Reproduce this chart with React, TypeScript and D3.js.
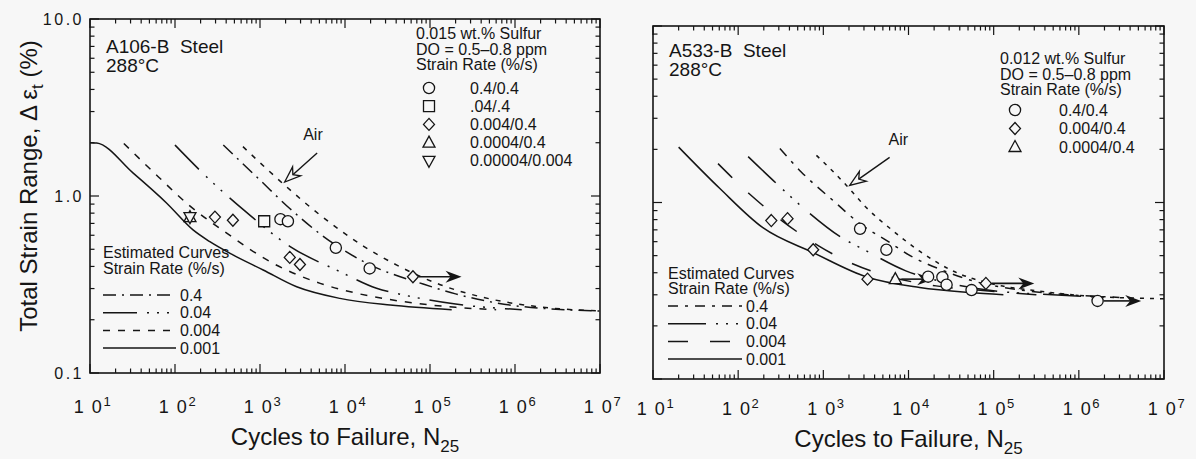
import React, { useEffect, useRef } from "react";
import * as d3 from "d3";

// [cycles to failure, total strain range %]
type Pt = [number, number];
// [from cycles, to cycles, strain range %]
type Runout = [number, number, number];

// axis tick labels
const decadeExponents = ["1", "2", "3", "4", "5", "6", "7"];
const yTickValues = [0.1, 1, 10];
const yTickLabels = ["0.1", "1.0", "10.0"];

// ---------- A106-B steel (left) ----------
const a106Air: Pt[] = [
  [630, 1.9], [2040, 1.13], [5100, 0.78], [16600, 0.52], [40700, 0.407],
  [120000, 0.321], [510000, 0.262], [2e6, 0.236], [1e7, 0.224],
];
const a106Rate04: Pt[] = [
  [370, 1.94], [1000, 1.23], [2240, 0.85], [5600, 0.59], [18000, 0.417],
  [83000, 0.318], [200000, 0.28], [1e6, 0.24], [1e7, 0.224],
];
const a106Rate004: Pt[] = [
  [100, 1.94], [258, 1.23], [690, 0.81], [2240, 0.52], [8700, 0.374],
  [23500, 0.301], [49000, 0.276], [200000, 0.245], [1.2e6, 0.228],
];
const a106Rate0004: Pt[] = [
  [25, 1.98], [63, 1.29], [145, 0.89], [410, 0.615], [1320, 0.425],
  [5100, 0.321], [13800, 0.282], [49000, 0.253], [200000, 0.235], [6e5, 0.228],
];
const a106Rate0001: Pt[] = [
  [10, 2.0], [12, 1.99], [32, 1.35], [80, 0.91], [163, 0.643], [257, 0.552],
  [480, 0.465], [1090, 0.382], [2700, 0.307], [8700, 0.264], [34000, 0.242], [180000, 0.228],
];

const a106Circle: Pt[] = [[1740, 0.74], [2130, 0.72], [7800, 0.51], [19500, 0.39]];
const a106Square: Pt[] = [[1120, 0.72]];
const a106Diamond: Pt[] = [[295, 0.76], [480, 0.73], [2240, 0.45], [2950, 0.41], [63000, 0.35]];
const a106TriUp: Pt[] = [[150, 0.76]];
const a106TriDown: Pt[] = [[150, 0.76]];
const a106Runouts: Runout[] = [[63000, 235000, 0.35]];

// "Air" note: label, arrow tail, arrow tip
const a106AirNote: Pt[] = [[4200, 2.21], [4700, 1.75], [1950, 1.2]];

const a106Head = ["0.015 wt.% Sulfur", "DO = 0.5–0.8 ppm", "Strain Rate (%/s)"];
const a106Rates = ["0.4/0.4", ".04/.4", "0.004/0.4", "0.0004/0.4", "0.00004/0.004"];

// ---------- A533-B steel (right) ----------
const a533Air: Pt[] = [
  [830, 1.85], [1870, 1.25], [3170, 0.94], [6600, 0.69], [13500, 0.53],
  [33000, 0.41], [98000, 0.345], [320000, 0.316], [1.2e6, 0.296], [1e7, 0.285],
];
const a533Rate04: Pt[] = [
  [309, 2.02], [550, 1.49], [1290, 1.03], [2680, 0.76], [5500, 0.61],
  [11300, 0.49], [23000, 0.42], [57000, 0.36], [200000, 0.32], [780000, 0.3], [3e6, 0.29],
];
const a533Rate004: Pt[] = [
  [131, 1.82], [282, 1.28], [600, 0.92], [1620, 0.635], [3170, 0.533],
  [9300, 0.41], [27000, 0.352], [81000, 0.32], [490000, 0.3], [2e6, 0.29],
];
const a533Rate0004: Pt[] = [
  [58, 1.66], [135, 1.12], [325, 0.79], [870, 0.57], [2240, 0.448],
  [5500, 0.385], [21000, 0.337], [81000, 0.316], [320000, 0.3],
];
const a533Rate0001: Pt[] = [
  [20, 2.06], [61, 1.2], [195, 0.72], [760, 0.52], [3300, 0.377],
  [13500, 0.33], [52000, 0.309], [130000, 0.3],
];

const a533Circle: Pt[] = [
  [2700, 0.71], [5500, 0.54], [17000, 0.38], [25000, 0.377], [28000, 0.342],
  [55000, 0.319], [1.66e6, 0.277],
];
const a533Diamond: Pt[] = [[245, 0.79], [380, 0.81], [760, 0.54], [3300, 0.368], [81000, 0.348]];
const a533TriUp: Pt[] = [[7000, 0.368]];
const a533Runouts: Runout[] = [
  [7000, 19500, 0.368],
  [81000, 300000, 0.348],
  [1.66e6, 5.4e6, 0.277],
];
const a533AirNote: Pt[] = [[7600, 2.25], [6000, 1.8], [2040, 1.25]];

const a533Head = ["0.012 wt.% Sulfur", "DO = 0.5–0.8 ppm", "Strain Rate (%/s)"];
const a533Rates = ["0.4/0.4", "0.004/0.4", "0.0004/0.4"];

const curveLabels = ["0.4", "0.04", "0.004", "0.001"];

const BG = "#f7f7f7";
const INK = "#151515";
const FONT = "'Liberation Sans', Arial, Helvetica, sans-serif";

const panels = [
  {
    frame: { x0: 90, x1: 600, y0: 19, y1: 373 },
    steel: "A106-B  Steel",
    titleY: 53,
    curves: [a106Rate04, a106Rate004, a106Rate0004, a106Rate0001],
    air: a106Air,
    dashes: ["13,6,2,6", "34,10,2,8,2,8,2,10", "7,8", null],
    airDash: "5,7",
    markers: [
      { shape: "circle", pts: a106Circle },
      { shape: "square", pts: a106Square },
      { shape: "diamond", pts: a106Diamond },
      { shape: "triUp", pts: a106TriUp },
      { shape: "triDown", pts: a106TriDown },
    ],
    runouts: a106Runouts,
    airNote: a106AirNote,
    head: a106Head,
    rates: a106Rates,
    legend: { hx: 416, hy: 39, hStep: 15.5, sx: 429, lx: 470, ry: 88, rStep: 18.2 },
    curveLegend: { x: 103, y: 258, hStep: 16, lx0: 103, lx1: 176, ry: 295, rStep: 17.7 },
    labelY: 413,
    titleBase: 445,
    yTicks: true,
  },
  {
    frame: { x0: 653, x1: 1164, y0: 26, y1: 379 },
    steel: "A533-B  Steel",
    titleY: 57,
    curves: [a533Rate04, a533Rate004, a533Rate0004, a533Rate0001],
    air: a533Air,
    dashes: ["10,7,3,7", "38,10,2,8,2,8,2,14", "20,22", null],
    airDash: "4,6",
    markers: [
      { shape: "circle", pts: a533Circle },
      { shape: "diamond", pts: a533Diamond },
      { shape: "triUp", pts: a533TriUp },
    ],
    runouts: a533Runouts,
    airNote: a533AirNote,
    head: a533Head,
    rates: a533Rates,
    legend: { hx: 1000, hy: 64, hStep: 15.5, sx: 1015, lx: 1059, ry: 110, rStep: 18.5 },
    curveLegend: { x: 668, y: 279, hStep: 15, lx0: 668, lx1: 742, ry: 306, rStep: 17.7 },
    labelY: 415,
    titleBase: 447,
    yTicks: false,
  },
];

function drawMarker(g: any, shape: string, cx: number, cy: number) {
  const s = g.append("path").attr("fill", BG).attr("stroke", INK).attr("stroke-width", 1.3);
  if (shape === "circle") {
    s.attr("d", d3.arc()({ innerRadius: 0, outerRadius: 5.6, startAngle: 0, endAngle: 2 * Math.PI }))
      .attr("transform", `translate(${cx},${cy})`);
  } else if (shape === "square") {
    s.attr("d", `M${cx - 5.5},${cy - 5.5}h11v11h-11Z`);
  } else if (shape === "diamond") {
    s.attr("d", `M${cx},${cy - 6}L${cx + 5.5},${cy}L${cx},${cy + 6}L${cx - 5.5},${cy}Z`);
  } else if (shape === "triUp") {
    s.attr("d", `M${cx},${cy - 6.5}L${cx + 6},${cy + 4.5}L${cx - 6},${cy + 4.5}Z`);
  } else {
    s.attr("d", `M${cx},${cy + 6.5}L${cx + 6},${cy - 4.5}L${cx - 6},${cy - 4.5}Z`);
  }
}

const App: React.FC = () => {
  const svgRef = useRef<SVGSVGElement>(null);

  useEffect(() => {
    if (!svgRef.current) return;
    const svg = d3.select(svgRef.current);
    svg.selectAll("*").remove();

    svg.append("rect").attr("width", 1196).attr("height", 459).attr("fill", BG);

    panels.forEach((p) => {
      const { x0, x1, y0, y1 } = p.frame;
      const x = d3.scaleLog().domain([10, 1e7]).range([x0, x1]);
      const y = d3.scaleLog().domain([0.1, 10]).range([y1, y0]);
      const g = svg.append("g");

      // frame
      g.append("rect")
        .attr("x", x0).attr("y", y0).attr("width", x1 - x0).attr("height", y1 - y0)
        .attr("fill", "none").attr("stroke", INK).attr("stroke-width", 1.6);

      // log ticks on all four sides, pointing inward
      const isMajor = (v: number) => Math.abs(Math.log10(v) - Math.round(Math.log10(v))) < 1e-6;
      x.ticks().forEach((v) => {
        const len = isMajor(v) ? 9 : 4.5;
        const px = x(v);
        g.append("line").attr("x1", px).attr("x2", px).attr("y1", y1).attr("y2", y1 - len)
          .attr("stroke", INK).attr("stroke-width", 1.2);
        g.append("line").attr("x1", px).attr("x2", px).attr("y1", y0).attr("y2", y0 + len)
          .attr("stroke", INK).attr("stroke-width", 1.2);
      });
      y.ticks().forEach((v) => {
        const len = isMajor(v) ? 9 : 4.5;
        const py = y(v);
        g.append("line").attr("x1", x0).attr("x2", x0 + len).attr("y1", py).attr("y2", py)
          .attr("stroke", INK).attr("stroke-width", 1.2);
        g.append("line").attr("x1", x1).attr("x2", x1 - len).attr("y1", py).attr("y2", py)
          .attr("stroke", INK).attr("stroke-width", 1.2);
      });

      // x tick labels 10^n
      decadeExponents.forEach((e) => {
        const t = g.append("text")
          .attr("x", x(Math.pow(10, +e)) + 3).attr("y", p.labelY)
          .attr("text-anchor", "middle")
          .style("font-family", FONT).style("font-size", "18px")
          .style("letter-spacing", "1.5px").attr("fill", INK);
        t.append("tspan").text("1 0");
        t.append("tspan").attr("dy", -7).style("font-size", "13px").text(e);
      });

      if (p.yTicks) {
        yTickValues.forEach((v, i) => {
          g.append("text")
            .attr("x", x0 - 6).attr("y", Math.max(y(v) + 6, 22))
            .attr("text-anchor", "end")
            .style("font-family", FONT).style("font-size", "16px")
            .style("letter-spacing", "2.5px").attr("fill", INK)
            .text(yTickLabels[i]);
        });
      }

      // x axis title
      const xt = g.append("text")
        .attr("x", (x0 + x1) / 2).attr("y", p.titleBase)
        .attr("text-anchor", "middle")
        .style("font-family", FONT).style("font-size", "24px").attr("fill", INK);
      xt.append("tspan").text("Cycles to Failure, N");
      xt.append("tspan").attr("dy", 7).style("font-size", "17px").text("25");

      // steel / temperature labels
      g.append("text").attr("x", x0 + 16).attr("y", p.titleY)
        .style("font-family", FONT).style("font-size", "19px").style("white-space", "pre")
        .attr("fill", INK).text(p.steel);
      g.append("text").attr("x", x0 + 16).attr("y", p.titleY + 19)
        .style("font-family", FONT).style("font-size", "19px").attr("fill", INK).text("288°C");

      // estimated curves
      const line = d3.line<Pt>()
        .x((d) => x(d[0]))
        .y((d) => y(d[1]))
        .curve(d3.curveMonotoneX);

      const plot = g.append("g");
      p.curves.forEach((c, i) => {
        plot.append("path").datum(c).attr("d", line)
          .attr("fill", "none").attr("stroke", INK).attr("stroke-width", 1.5)
          .attr("stroke-dasharray", p.dashes[i] ?? null);
      });
      plot.append("path").datum(p.air).attr("d", line)
        .attr("fill", "none").attr("stroke", INK).attr("stroke-width", 1.5)
        .attr("stroke-dasharray", p.airDash);

      // runout arrows
      p.runouts.forEach(([n0, n1, e]) => {
        const xa = x(n0) + 6;
        const xb = x(n1);
        const py = y(e);
        plot.append("line").attr("x1", xa).attr("x2", xb - 8).attr("y1", py).attr("y2", py)
          .attr("stroke", INK).attr("stroke-width", 1.6);
        plot.append("path")
          .attr("d", `M${xb},${py}L${xb - 16},${py - 6}L${xb - 11},${py}L${xb - 16},${py + 6}Z`)
          .attr("fill", INK);
      });

      // test data markers
      p.markers.forEach((m) => {
        m.pts.forEach((d) => drawMarker(plot, m.shape, x(d[0]), y(d[1])));
      });

      // "Air" note with open arrow
      const [lab, tail, tip] = p.airNote;
      g.append("text").attr("x", x(lab[0])).attr("y", y(lab[1]) + 5)
        .attr("text-anchor", "middle")
        .style("font-family", FONT).style("font-size", "16px").attr("fill", INK).text("Air");
      const ax = x(tail[0]), ay = y(tail[1]), bx = x(tip[0]), by = y(tip[1]);
      const ang = Math.atan2(by - ay, bx - ax);
      const cs = Math.cos(ang), sn = Math.sin(ang);
      const L = 16, Wd = 6, notch = 11;
      g.append("line").attr("x1", ax).attr("y1", ay)
        .attr("x2", bx - notch * cs).attr("y2", by - notch * sn)
        .attr("stroke", INK).attr("stroke-width", 1.4);
      const baseX = bx - L * cs, baseY = by - L * sn;
      g.append("path")
        .attr("d", `M${bx},${by}L${baseX - Wd * sn},${baseY + Wd * cs}L${bx - notch * cs},${by - notch * sn}L${baseX + Wd * sn},${baseY - Wd * cs}Z`)
        .attr("fill", BG).attr("stroke", INK).attr("stroke-width", 1.3);

      // data legend (top right)
      const lg = p.legend;
      p.head.forEach((h, i) => {
        g.append("text").attr("x", lg.hx).attr("y", lg.hy + i * lg.hStep)
          .style("font-family", FONT).style("font-size", "16px").attr("fill", INK).text(h);
      });
      p.rates.forEach((r, i) => {
        const cy = lg.ry + i * lg.rStep;
        drawMarker(g, p.markers[i].shape, lg.sx, cy);
        g.append("text").attr("x", lg.lx).attr("y", cy + 5.5)
          .style("font-family", FONT).style("font-size", "16px").attr("fill", INK).text(r);
      });

      // curve legend (bottom left)
      const cl = p.curveLegend;
      g.append("text").attr("x", cl.x).attr("y", cl.y)
        .style("font-family", FONT).style("font-size", "16px").attr("fill", INK).text("Estimated Curves");
      g.append("text").attr("x", cl.x).attr("y", cl.y + cl.hStep)
        .style("font-family", FONT).style("font-size", "16px").attr("fill", INK).text("Strain Rate (%/s)");
      curveLabels.forEach((c, i) => {
        const ly = cl.ry + i * cl.rStep;
        g.append("line").attr("x1", cl.lx0).attr("x2", cl.lx1).attr("y1", ly).attr("y2", ly)
          .attr("stroke", INK).attr("stroke-width", 1.5)
          .attr("stroke-dasharray", p.dashes[i] ?? null);
        g.append("text").attr("x", cl.lx1 + 4).attr("y", ly + 5.5)
          .style("font-family", FONT).style("font-size", "16px").attr("fill", INK).text(c);
      });
    });

    // y axis title
    const yt = svg.append("text")
      .attr("transform", "translate(37,186) rotate(-90)")
      .attr("text-anchor", "middle")
      .style("font-family", FONT).style("font-size", "24px").attr("fill", INK);
    yt.append("tspan").text("Total Strain Range, Δ ε");
    yt.append("tspan").attr("dy", 6).style("font-size", "17px").text("t");
    yt.append("tspan").attr("dy", -6).text(" (%)");
  }, []);

  return (
    <svg
      ref={svgRef}
      width={1196}
      height={459}
      style={{ position: "absolute", left: 0, top: 0, display: "block" }}
    />
  );
};

export default App;
